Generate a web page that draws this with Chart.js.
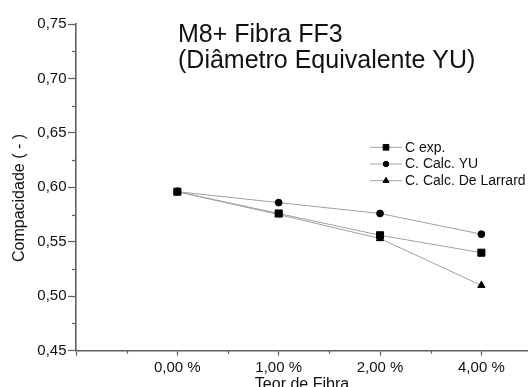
<!DOCTYPE html>
<html>
<head>
<meta charset="utf-8">
<script src="https://cdn.jsdelivr.net/npm/chart.js@4/dist/chart.umd.min.js"></script>
<style>
  html, body { margin: 0; padding: 0; background: #fff; }
  #wrap { width: 528px; height: 387px; }
</style>
</head>
<body>
<div id="wrap"><canvas id="compacidade" width="528" height="387"></canvas></div>
<script>
// data
var teorLabels = ['0,00 %', '1,00 %', '2,00 %', '4,00 %'];
var cExp = [0.596, 0.576, 0.556, 0.540];
var cCalcYU = [0.596, 0.586, 0.576, 0.557];
var cCalcLarrard = [0.596, 0.575, 0.553, 0.510];
var seriesNames = ['C exp.', 'C. Calc. YU', 'C. Calc. De Larrard'];
var titleLines = ['M8+ Fibra FF3', '(Diâmetro Equivalente YU)'];
var yTitle = 'Compacidade ( - )';

var fontFam = '"Liberation Sans", Arial, sans-serif';
var axisColor = '#5f5f5f';

function toPoints(arr) {
    return arr.map(function (v, i) { return { x: i, y: v }; });
}

function isWhole(v, step) {
    return Math.abs(Math.round(v / step) * step - v) < 1e-6;
}

var commonSet = {
    borderColor: '#a0a0a0',
    borderWidth: 1,
    pointBackgroundColor: '#000',
    pointBorderColor: '#000',
    pointBorderWidth: 1,
    tension: 0
};

// minor ticks, title, y title and legend drawn on top
var extrasPlugin = {
    id: 'extras',
    afterDraw: function (chart) {
        var ctx = chart.ctx;
        var area = chart.chartArea;
        var xs = chart.scales.x, ys = chart.scales.y;
        ctx.save();
        ctx.strokeStyle = axisColor;
        ctx.lineWidth = 1.2;
        ys.ticks.forEach(function (t) {
            if (!isWhole(t.value, 0.05)) {
                var py = Math.round(ys.getPixelForValue(t.value)) + 0.5;
                ctx.beginPath();
                ctx.moveTo(area.left - 4, py);
                ctx.lineTo(area.left, py);
                ctx.stroke();
            }
        });
        xs.ticks.forEach(function (t) {
            if (!isWhole(t.value, 1) && isWhole(t.value, 0.5)) {
                var px = Math.round(xs.getPixelForValue(t.value)) + 0.5;
                ctx.beginPath();
                ctx.moveTo(px, area.bottom);
                ctx.lineTo(px, area.bottom + 3);
                ctx.stroke();
            }
        });

        // title inside the plot
        ctx.fillStyle = '#111';
        ctx.font = '25px ' + fontFam;
        ctx.textBaseline = 'alphabetic';
        ctx.textAlign = 'left';
        ctx.fillText(titleLines[0], 178, 42);
        ctx.fillText(titleLines[1], 178, 68);

        // y axis title, a bit below the axis middle like the original
        ctx.save();
        ctx.translate(19.5, 198);
        ctx.rotate(-Math.PI / 2);
        ctx.font = '16px ' + fontFam;
        ctx.textAlign = 'center';
        ctx.textBaseline = 'middle';
        ctx.fillText(yTitle, 0, 0);
        ctx.restore();

        // legend
        var rowY = [147.3, 164, 180.7];
        ctx.font = '14px ' + fontFam;
        ctx.textBaseline = 'middle';
        ctx.textAlign = 'left';
        chart.data.datasets.forEach(function (ds, i) {
            var y = rowY[i];
            ctx.strokeStyle = '#a0a0a0';
            ctx.lineWidth = 1;
            ctx.beginPath();
            ctx.moveTo(370, y);
            ctx.lineTo(402, y);
            ctx.stroke();
            ctx.fillStyle = '#000';
            ctx.strokeStyle = '#000';
            Chart.helpers.drawPoint(ctx, {
                pointStyle: ds.pointStyle,
                radius: ds.pointRadius * 0.8,
                rotation: 0,
                borderWidth: 1
            }, 386, y);
            ctx.fillStyle = '#111';
            ctx.fillText(ds.label, 405, y + 0.5);
        });
        ctx.restore();
    }
};

var ctxComp = document.getElementById('compacidade').getContext('2d');

var compChart = new Chart(ctxComp, {
    type: 'line',
    data: {
        datasets: [
            Object.assign({ label: seriesNames[0], data: toPoints(cExp), pointStyle: 'rect', pointRadius: 5 }, commonSet),
            Object.assign({ label: seriesNames[1], data: toPoints(cCalcYU), pointStyle: 'circle', pointRadius: 3.4 }, commonSet),
            Object.assign({ label: seriesNames[2], data: toPoints(cCalcLarrard), pointStyle: 'triangle', pointRadius: 4.2 }, commonSet)
        ]
    },
    options: {
        responsive: false,
        animation: false,
        layout: {
            autoPadding: false,
            padding: { top: 24, right: 0, left: 0, bottom: 0 }
        },
        plugins: {
            legend: { display: false },
            tooltip: { enabled: false }
        },
        scales: {
            x: {
                type: 'linear',
                min: -1,
                max: 3.46,
                afterFit: function (s) {
                    s.height = 36.3;
                    s.paddingLeft = 0;
                    s.paddingRight = 0;
                },
                border: { color: axisColor, width: 1.6 },
                grid: {
                    drawOnChartArea: false,
                    tickLength: 5,
                    tickWidth: 1.2,
                    tickColor: function (c) {
                        return c.tick && isWhole(c.tick.value, 1) ? axisColor : 'rgba(0,0,0,0)';
                    }
                },
                ticks: {
                    stepSize: 0.5,
                    includeBounds: false,
                    autoSkip: false,
                    maxRotation: 0,
                    padding: 3,
                    color: '#111',
                    font: { family: fontFam, size: 15 },
                    callback: function (v) {
                        if (isWhole(v, 1) && v >= 0 && v < teorLabels.length) return teorLabels[Math.round(v)];
                        return '';
                    }
                },
                title: {
                    display: true,
                    text: 'Teor de Fibra',
                    color: '#111',
                    font: { family: fontFam, size: 16 },
                    padding: { top: 0, bottom: -7 }
                }
            },
            y: {
                min: 0.45,
                max: 0.75,
                afterFit: function (s) { s.width = 76; },
                border: { color: axisColor, width: 1.6 },
                grid: {
                    drawOnChartArea: false,
                    tickLength: 8,
                    tickWidth: 1.2,
                    tickColor: function (c) {
                        return c.tick && isWhole(c.tick.value, 0.05) ? axisColor : 'rgba(0,0,0,0)';
                    }
                },
                ticks: {
                    stepSize: 0.025,
                    autoSkip: false,
                    padding: 1.5,
                    color: '#111',
                    font: { family: fontFam, size: 15 },
                    callback: function (v) {
                        return isWhole(v, 0.05) ? v.toFixed(2).replace('.', ',') : '';
                    }
                },
                title: { display: false }
            }
        }
    },
    plugins: [extrasPlugin]
});
</script>
</body>
</html>
